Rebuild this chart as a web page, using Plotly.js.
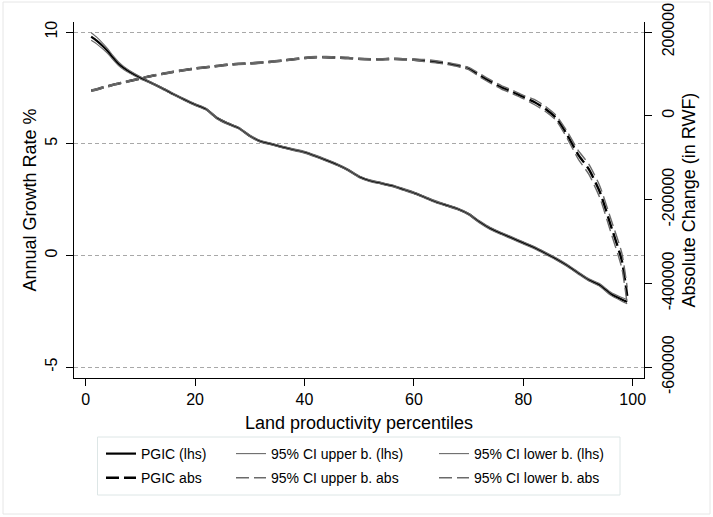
<!DOCTYPE html>
<html>
<head>
<meta charset="utf-8">
<script src="https://cdn.plot.ly/plotly-3.0.1.min.js"></script>
<style>html,body{margin:0;padding:0;background:#fff;}#chart{width:713px;height:517px;}</style>
</head>
<body>
<div id="chart"></div>
<script>
// Percentiles (x)
const percentiles = [1,2,3,4,5,6,7,8,10,12,14,16,18,20,22,24,26,28,30,32,34,36,38,40,42,44,46,48,50,52,54,56,58,60,62,64,66,68,70,72,74,76,78,80,82,84,86,88,90,92,94,96,98,99];

// PGIC (lhs), annual growth rate %
const pgicLhs = [9.80,9.62,9.40,9.15,8.85,8.58,8.38,8.22,7.95,7.72,7.48,7.22,6.98,6.75,6.55,6.15,5.90,5.70,5.35,5.10,4.98,4.85,4.73,4.62,4.45,4.26,4.06,3.82,3.52,3.34,3.23,3.12,2.96,2.80,2.60,2.40,2.24,2.08,1.85,1.50,1.20,0.98,0.77,0.56,0.35,0.10,-0.16,-0.45,-0.78,-1.10,-1.33,-1.72,-1.97,-2.08];
const ciUpperLhs = [9.97,9.77,9.53,9.26,8.94,8.66,8.45,8.28,8.00,7.76,7.52,7.26,7.02,6.79,6.59,6.19,5.94,5.74,5.39,5.14,5.02,4.89,4.77,4.66,4.49,4.30,4.10,3.86,3.56,3.38,3.27,3.16,3.00,2.84,2.64,2.44,2.28,2.12,1.89,1.55,1.25,1.03,0.82,0.61,0.40,0.15,-0.11,-0.40,-0.73,-1.05,-1.27,-1.65,-1.89,-1.99];
const ciLowerLhs = [9.63,9.47,9.27,9.04,8.76,8.50,8.31,8.16,7.90,7.68,7.44,7.18,6.94,6.71,6.51,6.11,5.86,5.66,5.31,5.06,4.94,4.81,4.69,4.58,4.41,4.22,4.02,3.78,3.48,3.30,3.19,3.08,2.92,2.76,2.56,2.36,2.20,2.04,1.81,1.45,1.15,0.93,0.72,0.51,0.30,0.05,-0.21,-0.50,-0.83,-1.15,-1.39,-1.79,-2.05,-2.17];

// PGIC abs (rhs), absolute change in RWF
const pgicAbs = [60000,63000,67000,70000,74000,77000,80000,83000,89000,95000,100000,105000,109000,113000,116000,119000,122000,124000,125000,127000,129000,132000,135000,138000,140000,140000,139000,138000,136000,135000,135000,136000,135000,134000,132000,129000,125000,120000,113000,97000,82000,68000,57000,45000,33000,17000,-5000,-45000,-92000,-128000,-182000,-262000,-345000,-430000];
const ciUpperAbs = [61500,64500,68500,71500,75500,78500,81500,84500,90500,96500,101500,106500,110500,114500,117500,120500,123500,125500,126500,128500,130500,133500,136500,139500,141500,141500,140500,139500,137500,136500,136500,137500,136500,135500,134500,131500,127500,122500,115500,101000,86000,72000,61000,49000,39000,23000,1000,-37000,-82000,-116000,-168000,-246000,-327000,-410000];
const ciLowerAbs = [58500,61500,65500,68500,72500,75500,78500,81500,87500,93500,98500,103500,107500,111500,114500,117500,120500,122500,123500,125500,127500,130500,133500,136500,138500,138500,137500,136500,134500,133500,133500,134500,133500,132500,129500,126500,122500,117500,110500,93000,78000,64000,53000,41000,27000,11000,-11000,-53000,-102000,-140000,-196000,-278000,-363000,-450000];

// Tick labels
const xTickVals = [0,20,40,60,80,100];
const xTickText = ["0","20","40","60","80","100"];
const yTickVals = [-5,0,5,10];
const yTickText = ["-5","0","5","10"];
const y2TickVals = [-600000,-400000,-200000,0,200000];
const y2TickText = ["-600000","-400000","-200000","0","200000"];

const seriesNames = ["PGIC (lhs)","95% CI upper b. (lhs)","95% CI lower b. (lhs)","PGIC abs","95% CI upper b. abs","95% CI lower b. abs"];

const FONT = "Liberation Sans, Arial, Helvetica, sans-serif";
const W = 713, H = 517;
const L = 74, R = 644, T = 22, B = 378;
const px2x = p => (p - L) / (R - L);
const py2y = p => (B - p) / (B - T);

const yRange = [-5.49, 10.45];
// right axis aligned so 10 <-> 200000 and -5 <-> -600000
const toRight = v => 200000 + (v - 10) * 800000 / 15;
const y2Range = [toRight(yRange[0]), toRight(yRange[1])];

const dashPat = "13px,5px";
const traces = [
  {x: percentiles, y: pgicLhs, name: seriesNames[0], yaxis: "y", legend: "legend", legendgroup: "a1",
   mode: "lines", line: {color: "#000", width: 2.2, shape: "spline", smoothing: 0.6}},
  {x: percentiles, y: ciUpperLhs, name: seriesNames[1], yaxis: "y", legend: "legend2", legendgroup: "b1",
   mode: "lines", line: {color: "#6a6a6a", width: 1.1, shape: "spline", smoothing: 0.6}},
  {x: percentiles, y: ciLowerLhs, name: seriesNames[2], yaxis: "y", legend: "legend3", legendgroup: "c1",
   mode: "lines", line: {color: "#6a6a6a", width: 1.1, shape: "spline", smoothing: 0.6}},
  {x: percentiles, y: pgicAbs, name: seriesNames[3], yaxis: "y2", legend: "legend", legendgroup: "a2",
   mode: "lines", line: {color: "#000", width: 2.4, dash: dashPat, shape: "spline", smoothing: 0.6}},
  {x: percentiles, y: ciUpperAbs, name: seriesNames[4], yaxis: "y2", legend: "legend2", legendgroup: "b2",
   mode: "lines", line: {color: "#6a6a6a", width: 1.4, dash: dashPat, shape: "spline", smoothing: 0.6}},
  {x: percentiles, y: ciLowerAbs, name: seriesNames[5], yaxis: "y2", legend: "legend3", legendgroup: "c2",
   mode: "lines", line: {color: "#6a6a6a", width: 1.4, dash: dashPat, shape: "spline", smoothing: 0.6}}
];

const legendBase = {
  orientation: "v", xanchor: "left", yanchor: "top",
  bgcolor: "rgba(0,0,0,0)", borderwidth: 0,
  font: {family: FONT, size: 14, color: "#000"},
  tracegroupgap: 3, itemclick: false, itemdoubleclick: false
};

const layout = {
  width: W, height: H,
  margin: {l: L, r: W - R, t: T, b: H - B, pad: 0},
  paper_bgcolor: "#fff", plot_bgcolor: "#fff",
  font: {family: FONT, size: 16, color: "#000"},
  showlegend: true,
  legend: Object.assign({}, legendBase, {x: px2x(101), y: py2y(438)}),
  legend2: Object.assign({}, legendBase, {x: px2x(231), y: py2y(438)}),
  legend3: Object.assign({}, legendBase, {x: px2x(434), y: py2y(438)}),
  xaxis: {
    range: [-2.14, 102.07], tickmode: "array", tickvals: xTickVals, ticktext: xTickText,
    ticks: "outside", ticklen: 7, tickwidth: 1, tickcolor: "#000",
    showline: true, linecolor: "#000", linewidth: 1, mirror: false,
    showgrid: false, zeroline: false,
    tickfont: {family: FONT, size: 16, color: "#000"},
    title: {text: "Land productivity percentiles", font: {family: FONT, size: 18, color: "#000"}, standoff: 9}
  },
  yaxis: {
    range: yRange, tickmode: "array", tickvals: yTickVals, ticktext: yTickText,
    tickangle: -90, ticklabelstandoff: 3,
    ticks: "outside", ticklen: 7, tickwidth: 1, tickcolor: "#000",
    showline: true, linecolor: "#000", linewidth: 1, mirror: false,
    showgrid: true, gridcolor: "#a8a8a8", gridwidth: 1, griddash: "4px,3px",
    zeroline: false,
    tickfont: {family: FONT, size: 16, color: "#000"},
    title: {text: "Annual Growth Rate %", font: {family: FONT, size: 18, color: "#000"}, standoff: 1}
  },
  yaxis2: {
    range: y2Range, overlaying: "y", side: "right",
    tickmode: "array", tickvals: y2TickVals, ticktext: y2TickText,
    tickangle: -90, ticklabelstandoff: 3,
    ticks: "outside", ticklen: 7, tickwidth: 1, tickcolor: "#000",
    showline: true, linecolor: "#000", linewidth: 1,
    showgrid: false, zeroline: false,
    tickfont: {family: FONT, size: 16, color: "#000"},
    title: {text: "Absolute Change (in RWF)", font: {family: FONT, size: 18, color: "#000"}, standoff: 6}
  },
  shapes: [
    {type: "rect", xref: "paper", yref: "paper", x0: px2x(3), x1: px2x(710), y0: py2y(2), y1: py2y(514),
     line: {color: "#e6e6e6", width: 1}, fillcolor: "rgba(0,0,0,0)", layer: "below"},
    {type: "rect", xref: "paper", yref: "paper", x0: px2x(97.5), x1: px2x(620), y0: py2y(437), y1: py2y(495),
     line: {color: "#dde6e6", width: 1}, fillcolor: "#ffffff", layer: "below"}
  ]
};

Plotly.newPlot("chart", traces, layout, {displayModeBar: false, staticPlot: true});
</script>
</body>
</html>
